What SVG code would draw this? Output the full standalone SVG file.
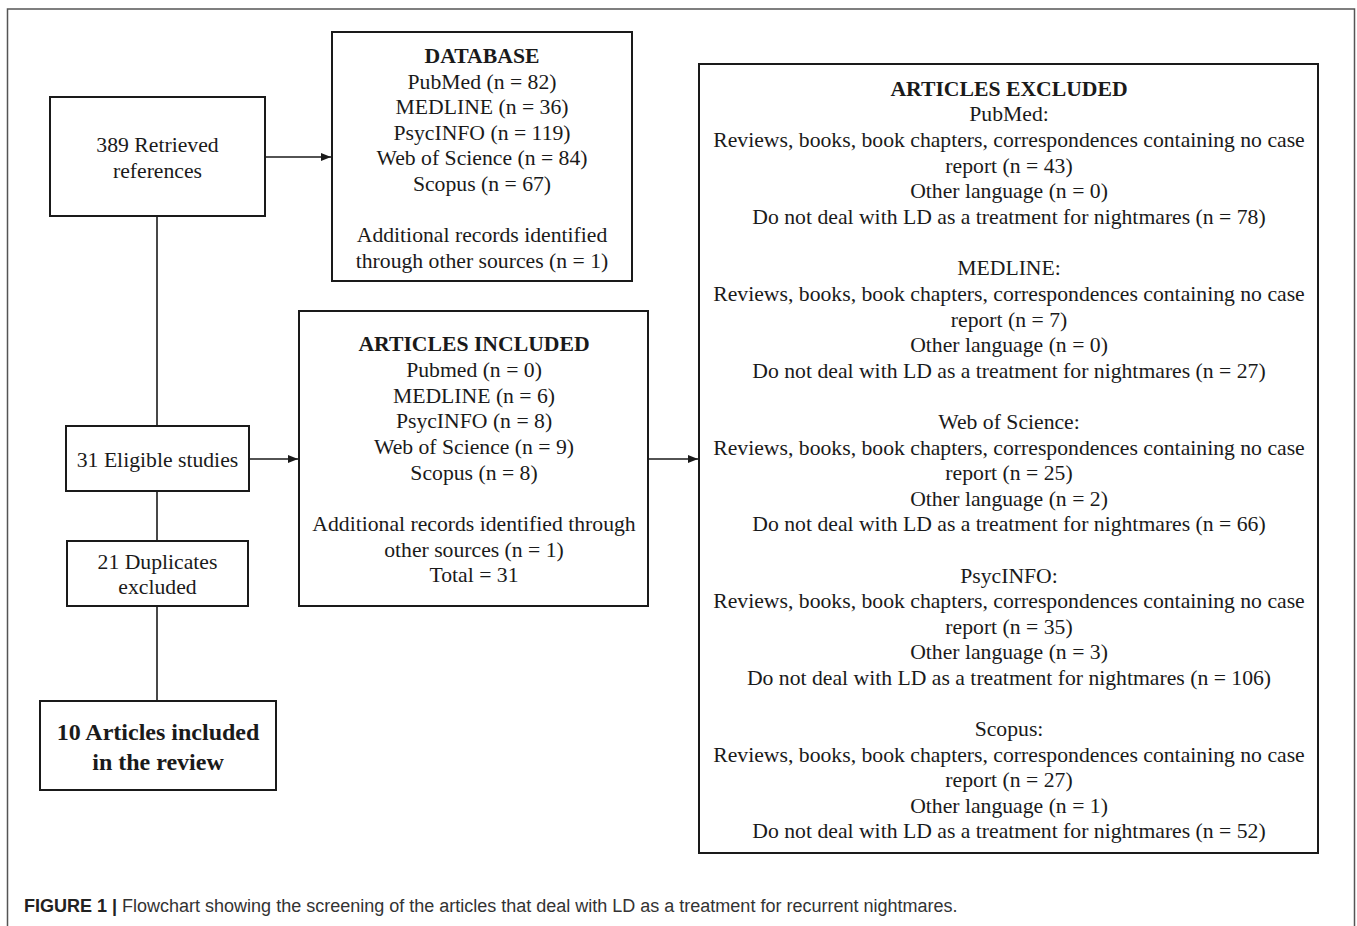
<svg xmlns="http://www.w3.org/2000/svg" width="1357" height="926" viewBox="0 0 1357 926">
<style>
.box{fill:#fff;stroke:#1a1a1a;stroke-width:2}
.t{font-family:"Liberation Serif","Times New Roman",serif;font-size:21.7px;fill:#1a1a1a;text-anchor:middle}
.b{font-weight:bold}
.big{font-size:24px;font-weight:bold}
.ln{stroke:#1a1a1a;stroke-width:1.6;fill:none}
.cap{font-family:"Liberation Sans",Arial,sans-serif;font-size:18px;fill:#333}
</style>
<defs>
<marker id="ar" viewBox="0 0 10 10" refX="10" refY="5" markerWidth="10" markerHeight="10" markerUnits="userSpaceOnUse" orient="auto">
<path d="M0,1 L10,5 L0,9 z" fill="#1a1a1a"/>
</marker>
</defs>
<rect x="0" y="0" width="1357" height="926" fill="#fff"/>
<rect x="7.5" y="9" width="1347" height="940" fill="none" stroke="#555" stroke-width="1.5"/>
<g id="connectors">
<line class="ln" x1="265" y1="157" x2="331" y2="157" marker-end="url(#ar)"/>
<line class="ln" x1="157" y1="216" x2="157" y2="426"/>
<line class="ln" x1="157" y1="491" x2="157" y2="541"/>
<line class="ln" x1="157" y1="606" x2="157" y2="701"/>
<line class="ln" x1="249" y1="459" x2="298" y2="459" marker-end="url(#ar)"/>
<line class="ln" x1="648" y1="459" x2="698" y2="459" marker-end="url(#ar)"/>
</g>
<g id="retrieved">
<rect class="box" x="50" y="97" width="215" height="119"/>
<text class="t" x="157.5" y="152">389 Retrieved</text>
<text class="t" x="157.5" y="178">references</text>
</g>
<g id="database">
<rect class="box" x="332" y="32" width="300" height="249"/>
<text class="t b" x="482" y="63">DATABASE</text>
<text class="t" x="482" y="89">PubMed (n = 82)</text>
<text class="t" x="482" y="114">MEDLINE (n = 36)</text>
<text class="t" x="482" y="140">PsycINFO (n = 119)</text>
<text class="t" x="482" y="165">Web of Science (n = 84)</text>
<text class="t" x="482" y="191">Scopus (n = 67)</text>
<text class="t" x="482" y="242">Additional records identified</text>
<text class="t" x="482" y="268">through other sources (n = 1)</text>
</g>
<g id="eligible">
<rect class="box" x="66" y="426" width="183" height="65"/>
<text class="t" x="157.5" y="467">31 Eligible studies</text>
</g>
<g id="duplicates">
<rect class="box" x="67" y="541" width="181" height="65"/>
<text class="t" x="157.5" y="569">21 Duplicates</text>
<text class="t" x="157.5" y="594">excluded</text>
</g>
<g id="final">
<rect class="box" x="40" y="701" width="236" height="89"/>
<text class="t big" x="158" y="740">10 Articles included</text>
<text class="t big" x="158" y="770">in the review</text>
</g>
<g id="included">
<rect class="box" x="299" y="311" width="349" height="295"/>
<text class="t b" x="474" y="351">ARTICLES INCLUDED</text>
<text class="t" x="474" y="377">Pubmed (n = 0)</text>
<text class="t" x="474" y="403">MEDLINE (n = 6)</text>
<text class="t" x="474" y="428">PsycINFO (n = 8)</text>
<text class="t" x="474" y="454">Web of Science (n = 9)</text>
<text class="t" x="474" y="480">Scopus (n = 8)</text>
<text class="t" x="474" y="531">Additional records identified through</text>
<text class="t" x="474" y="557">other sources (n = 1)</text>
<text class="t" x="474" y="582">Total = 31</text>
</g>
<g id="excluded">
<rect class="box" x="699" y="64" width="619" height="789"/>
<text class="t b" x="1009" y="96">ARTICLES EXCLUDED</text>
<text class="t" x="1009" y="121">PubMed:</text>
<text class="t" x="1009" y="147">Reviews, books, book chapters, correspondences containing no case</text>
<text class="t" x="1009" y="173">report (n = 43)</text>
<text class="t" x="1009" y="198">Other language (n = 0)</text>
<text class="t" x="1009" y="224">Do not deal with LD as a treatment for nightmares (n = 78)</text>
<text class="t" x="1009" y="275">MEDLINE:</text>
<text class="t" x="1009" y="301">Reviews, books, book chapters, correspondences containing no case</text>
<text class="t" x="1009" y="327">report (n = 7)</text>
<text class="t" x="1009" y="352">Other language (n = 0)</text>
<text class="t" x="1009" y="378">Do not deal with LD as a treatment for nightmares (n = 27)</text>
<text class="t" x="1009" y="429">Web of Science:</text>
<text class="t" x="1009" y="455">Reviews, books, book chapters, correspondences containing no case</text>
<text class="t" x="1009" y="480">report (n = 25)</text>
<text class="t" x="1009" y="506">Other language (n = 2)</text>
<text class="t" x="1009" y="531">Do not deal with LD as a treatment for nightmares (n = 66)</text>
<text class="t" x="1009" y="583">PsycINFO:</text>
<text class="t" x="1009" y="608">Reviews, books, book chapters, correspondences containing no case</text>
<text class="t" x="1009" y="634">report (n = 35)</text>
<text class="t" x="1009" y="659">Other language (n = 3)</text>
<text class="t" x="1009" y="685">Do not deal with LD as a treatment for nightmares (n = 106)</text>
<text class="t" x="1009" y="736">Scopus:</text>
<text class="t" x="1009" y="762">Reviews, books, book chapters, correspondences containing no case</text>
<text class="t" x="1009" y="787">report (n = 27)</text>
<text class="t" x="1009" y="813">Other language (n = 1)</text>
<text class="t" x="1009" y="838">Do not deal with LD as a treatment for nightmares (n = 52)</text>
</g>
<text class="cap" x="24" y="912"><tspan font-weight="bold" fill="#222">FIGURE 1 |</tspan> Flowchart showing the screening of the articles that deal with LD as a treatment for recurrent nightmares.</text>
</svg>
